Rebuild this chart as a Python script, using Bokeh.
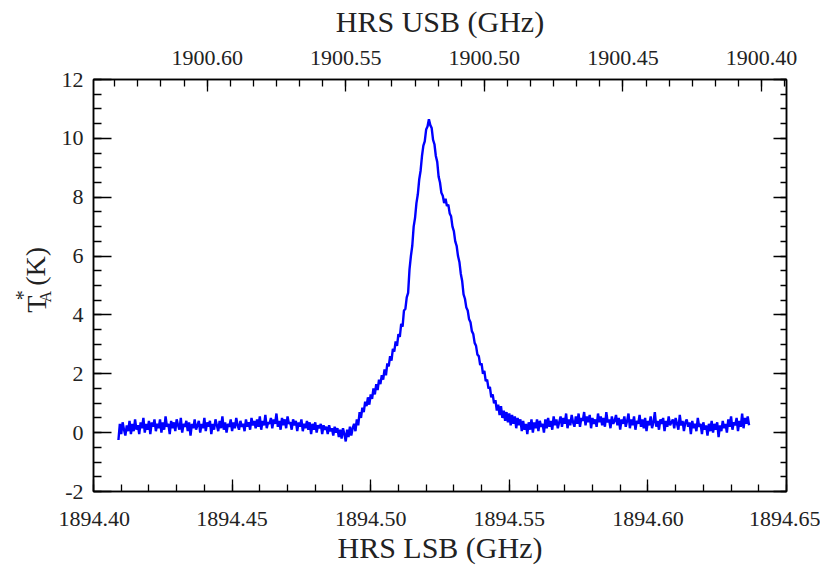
import math
import numpy as np
from bokeh.plotting import figure
from bokeh.layouts import row
from bokeh.models import (Range1d, LinearAxis, SingleIntervalTicker, Label,
                          PrintfTickFormatter, CustomJSTickFormatter, ColumnDataSource)
from bokeh.embed import file_html
from bokeh.resources import INLINE

# ---- data ----
lsb_start = 1894.409       # first channel, GHz (LSB)
lsb_step = 0.0005          # channel width, GHz
usb_plus_lsb = 3795.041    # USB = usb_plus_lsb - LSB

ta_star = [
    -0.25, 0.30, -0.05, 0.35, 0.10, -0.10, 0.25, 0.05, 0.40, -0.05,
    0.30, 0.05, 0.45, 0.10, 0.25, -0.05, 0.35, 0.15, 0.50, 0.00,
    0.30, 0.10, 0.40, -0.05, 0.35, 0.20, 0.45, 0.05, 0.30, 0.15,
    0.45, 0.00, 0.35, 0.10, 0.55, 0.20, 0.30, -0.05, 0.40, 0.15,
    0.35, 0.05, 0.45, 0.25, 0.10, 0.50, 0.00, 0.30, 0.20, 0.40,
    0.05, 0.35, -0.10, 0.30, 0.15, 0.45, 0.10, 0.25, 0.40, 0.00,
    0.30, 0.15, 0.50, 0.05, 0.35, 0.20, 0.40, -0.05, 0.30, 0.10,
    0.45, 0.25, 0.05, 0.40, 0.15, 0.55, 0.10, 0.35, 0.00, 0.30,
    0.20, 0.45, 0.05, 0.35, 0.15, 0.50, 0.25, 0.10, 0.40, 0.20,
    0.30, 0.05, 0.45, 0.20, 0.35, 0.10, 0.50, 0.25, 0.40, 0.15,
    0.45, 0.20, 0.55, 0.10, 0.40, 0.25, 0.60, 0.15, 0.35, 0.30,
    0.50, 0.15, 0.45, 0.30, 0.65, 0.20, 0.40, 0.10, 0.50, 0.25,
    0.45, 0.15, 0.55, 0.30, 0.35, 0.10, 0.45, 0.25, 0.40, 0.05,
    0.35, 0.20, 0.45, 0.05, 0.30, 0.15, 0.40, 0.10, 0.35, -0.05,
    0.30, 0.10, 0.35, 0.00, 0.25, 0.15, 0.30, -0.05, 0.25, 0.10,
    0.20, -0.05, 0.25, 0.05, 0.15, -0.10, 0.20, 0.00, 0.15, -0.15,
    0.10, -0.20, 0.15, -0.05, -0.30, 0.10, -0.15, 0.20, -0.10, 0.15,
    0.30, 0.05, 0.45, 0.25, 0.70, 0.50, 0.85, 0.70, 1.05, 0.90,
    1.20, 0.95, 1.30, 1.15, 1.50, 1.30, 1.65, 1.45, 1.80, 1.65,
    1.95, 1.80, 2.15, 1.95, 2.35, 2.25, 2.60, 2.45, 2.85, 2.75,
    3.10, 2.95, 3.35, 3.25, 3.70, 3.60, 4.15, 4.20, 4.60, 4.75,
    5.55, 6.00, 6.35, 7.00, 7.30, 7.80, 8.10, 8.60, 8.90, 9.40,
    9.75, 9.90, 10.30, 10.40, 10.65, 10.45, 10.35, 9.95, 9.80, 9.40,
    9.20, 8.70, 8.50, 8.15, 8.05, 7.80, 7.95, 7.70, 7.75, 7.45,
    7.35, 7.00, 6.85, 6.50, 6.35, 6.00, 5.80, 5.40, 5.15, 4.70,
    4.55, 4.25, 4.15, 3.85, 3.75, 3.45, 3.35, 3.05, 2.95, 2.65,
    2.60, 2.30, 2.35, 2.00, 2.10, 1.75, 1.80, 1.50, 1.55, 1.20,
    1.30, 1.00, 1.10, 0.75, 0.95, 0.60, 0.90, 0.50, 0.75, 0.40,
    0.70, 0.35, 0.65, 0.25, 0.60, 0.30, 0.55, 0.15, 0.50, 0.25,
    0.45, 0.05, 0.40, 0.10, 0.30, -0.05, 0.35, 0.10, 0.45, 0.00,
    0.35, 0.15, 0.45, 0.05, 0.40, 0.20, 0.30, 0.00, 0.45, 0.15,
    0.50, 0.20, 0.40, 0.10, 0.55, 0.25, 0.45, 0.15, 0.35, 0.55,
    0.20, 0.50, 0.30, 0.65, 0.15, 0.45, 0.25, 0.60, 0.35, 0.20,
    0.55, 0.30, 0.65, 0.20, 0.50, 0.40, 0.70, 0.25, 0.55, 0.35,
    0.60, 0.15, 0.50, 0.30, 0.45, 0.20, 0.65, 0.35, 0.55, 0.25,
    0.50, 0.20, 0.70, 0.35, 0.45, 0.15, 0.55, 0.30, 0.40, 0.60,
    0.25, 0.50, 0.10, 0.45, 0.30, 0.55, 0.20, 0.40, 0.65, 0.15,
    0.45, 0.25, 0.55, 0.10, 0.40, 0.30, 0.60, 0.20, 0.45, 0.15,
    0.50, 0.05, 0.40, 0.25, 0.55, 0.15, 0.35, 0.70, 0.20, 0.40,
    0.10, 0.45, 0.30, 0.50, 0.05, 0.40, 0.20, 0.55, 0.25, 0.35,
    0.45, 0.15, 0.50, 0.30, 0.10, 0.60, 0.25, 0.40, 0.05, 0.35,
    0.45, 0.20, 0.35, -0.05, 0.40, 0.15, 0.30, 0.05, 0.50, 0.20,
    0.30, -0.05, 0.35, 0.10, 0.25, -0.10, 0.30, 0.05, 0.40, 0.00,
    0.30, 0.10, 0.35, -0.15, 0.25, 0.05, 0.40, 0.15, 0.30, 0.00,
    0.45, 0.20, 0.55, 0.10, 0.35, 0.25, 0.50, 0.05, 0.40, 0.20,
    0.65, 0.15, 0.50, 0.30, 0.55, 0.25,
]

lsb_ticks_interval = 0.05
usb_ticks_interval = 0.05
y_ticks_interval = 2

x_title_bottom = "HRS LSB (GHz)"
x_title_top = "HRS USB (GHz)"
y_title_parts = ["T", "*", "A", "(K)"]

lsb = lsb_start + lsb_step * np.arange(len(ta_star))
src = ColumnDataSource(dict(lsb=lsb, ta=ta_star))

FONT = "Liberation Serif"
TXT = "#222222"
H = 569
LABW = 58

p = figure(frame_width=693, frame_height=412,
           x_range=Range1d(1894.40, 1894.65), y_range=Range1d(-2, 12),
           output_backend="svg", toolbar_location=None,
           min_border_left=92 - LABW, min_border_right=34,
           min_border_top=79, min_border_bottom=78)
p.background_fill_color = "white"
p.border_fill_color = "white"
p.xgrid.visible = False
p.ygrid.visible = False
p.outline_line_color = "black"
p.outline_line_width = 1.5

p.line("lsb", "ta", source=src, line_color="#0000ff", line_width=2.4)

def style(ax, tin, minin):
    ax.axis_line_color = "black"
    ax.axis_line_width = 1.5
    ax.major_tick_line_color = "black"
    ax.minor_tick_line_color = "black"
    ax.major_tick_line_width = 1.3
    ax.minor_tick_line_width = 1.3
    ax.major_tick_out = 0
    ax.minor_tick_out = 0
    ax.major_tick_in = tin
    ax.minor_tick_in = minin
    ax.major_label_text_font = FONT
    ax.major_label_text_font_size = "22px"
    ax.major_label_text_color = TXT
    ax.axis_label_text_font = FONT
    ax.axis_label_text_font_size = "30px"
    ax.axis_label_text_font_style = "normal"
    ax.axis_label_text_color = TXT

# bottom axis (LSB)
xb = p.xaxis[0]
xb.ticker = SingleIntervalTicker(interval=lsb_ticks_interval, num_minor_ticks=5)
xb.formatter = PrintfTickFormatter(format="%.2f")
xb.axis_label = x_title_bottom
style(xb, 12, 7)
xb.major_label_standoff = 20
xb.axis_label_standoff = 2

# left axis
yl = p.yaxis[0]
yl.ticker = SingleIntervalTicker(interval=y_ticks_interval, num_minor_ticks=4)
yl.formatter = PrintfTickFormatter(format="%d")
style(yl, 18, 8)
yl.major_label_standoff = 10

# top axis (USB)
p.extra_x_ranges = {"usb": Range1d(usb_plus_lsb - 1894.40, usb_plus_lsb - 1894.65)}
xt = LinearAxis(x_range_name="usb",
                ticker=SingleIntervalTicker(interval=usb_ticks_interval, num_minor_ticks=6),
                formatter=PrintfTickFormatter(format="%.2f"),
                axis_label=x_title_top)
style(xt, 12, 7)
xt.major_label_standoff = 15
xt.axis_label_standoff = 10
p.add_layout(xt, "above")

# right axis (ticks only)
yr = LinearAxis(ticker=SingleIntervalTicker(interval=y_ticks_interval, num_minor_ticks=4),
                formatter=CustomJSTickFormatter(code="return ''"))
style(yr, 13, 6)
yr.major_label_standoff = 0
p.add_layout(yr, "right")

# narrow strip holding the rotated y title  T*_A (K)
lab = figure(width=LABW, height=H, x_range=Range1d(0, LABW), y_range=Range1d(0, H),
             output_backend="svg", toolbar_location=None,
             x_axis_type=None, y_axis_type=None, min_border=0)
lab.outline_line_color = None
lab.xgrid.visible = False
lab.ygrid.visible = False
lab.background_fill_color = "white"
lab.border_fill_color = "white"
lab.line(x=[0, 1], y=[0, 0], line_alpha=0)  # keeps the strip a plain figure
ang = math.pi / 2
pieces = [  # (x, y, size) in strip pixels
    (36, H - 322, "28px"),
    (22, H - 305, "20px"),
    (45, H - 308, "16px"),
    (35, H - 285, "28px"),
]
for txt, (tx, ty, sz) in zip(y_title_parts, pieces):
    lab.add_layout(Label(x=tx, y=ty, text=txt, angle=ang, text_font=FONT,
                         text_font_size=sz, text_color=TXT, text_align="left",
                         text_baseline="alphabetic"))

layout = row(lab, p, spacing=0)
open("out.html", "w").write(file_html(layout, INLINE))
